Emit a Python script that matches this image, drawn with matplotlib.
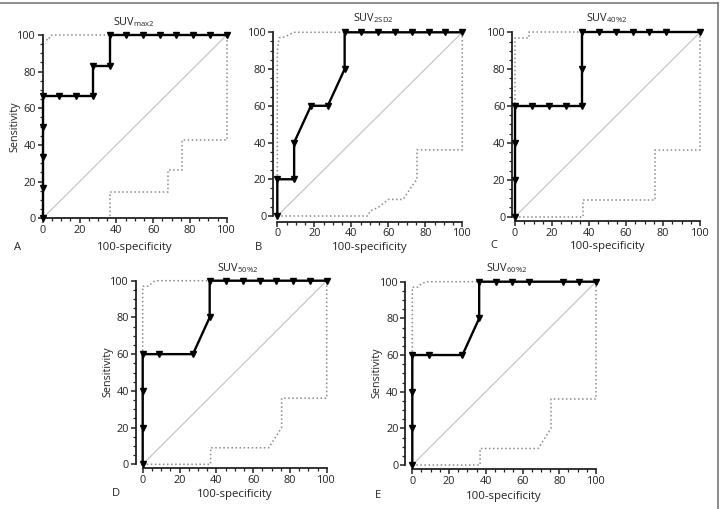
import matplotlib.pyplot as plt
from matplotlib.lines import Line2D
from matplotlib.ticker import MultipleLocator

plt.rcParams['font.family'] = ['Open Sans', 'DejaVu Sans']

# ROC curves (100-specificity, sensitivity)
a_fpr = [0, 0, 0, 0, 0, 9.1, 18.2, 27.3, 27.3, 36.4, 36.4, 45.5, 54.5, 63.6, 72.7, 81.8, 90.9, 100]
a_tpr = [0, 16.7, 33.3, 50, 66.7, 66.7, 66.7, 66.7, 83.3, 83.3, 100, 100, 100, 100, 100, 100, 100, 100]
a_up_x = [0, 0, 3.6, 3.6, 5, 100]
a_up_y = [0, 97.5, 97.5, 99, 100, 100]
a_lo_x = [0, 36.4, 36.4, 68.3, 68.3, 75.5, 75.5, 100, 100]
a_lo_y = [0, 0, 14.5, 14.5, 26.4, 26.4, 42.7, 42.7, 100]

b_fpr = [0, 0, 9.1, 9.1, 18.2, 27.3, 36.4, 36.4, 45.5, 54.5, 63.6, 72.7, 81.8, 90.9, 100]
b_tpr = [0, 20, 20, 40, 60, 60, 80, 100, 100, 100, 100, 100, 100, 100, 100]
b_up_x = [0, 0, 1, 4, 7, 9, 100]
b_up_y = [0, 90, 97, 97.5, 99, 100, 100]
b_lo_x = [0, 49, 50, 55, 60, 68, 74, 75.5, 75.5, 100, 100]
b_lo_y = [0, 0, 2.5, 5, 9, 9, 18, 20, 36, 36, 100]

c_fpr = [0, 0, 0, 0, 9.1, 18.2, 27.3, 36.4, 36.4, 36.4, 45.5, 54.5, 63.6, 72.7, 81.8, 100]
c_tpr = [0, 20, 40, 60, 60, 60, 60, 60, 80, 100, 100, 100, 100, 100, 100, 100]
c_up_x = [0, 0, 7.7, 7.7, 100]
c_up_y = [0, 97, 97, 100, 100]
c_lo_x = [0, 36.9, 36.9, 75.5, 75.5, 100, 100]
c_lo_y = [0, 0, 9, 9, 36, 36, 100]

d_fpr = [0, 0, 0, 0, 9.1, 27.3, 36.4, 36.4, 45.5, 54.5, 63.6, 72.7, 81.8, 90.9, 100]
d_tpr = [0, 20, 40, 60, 60, 60, 80, 100, 100, 100, 100, 100, 100, 100, 100]
d_up_x = [0, 0, 3, 6, 8, 100]
d_up_y = [0, 97, 97, 99.5, 100, 100]
d_lo_x = [0, 36.9, 36.9, 68.5, 75.5, 75.5, 100, 100]
d_lo_y = [0, 0, 9, 9, 20, 36, 36, 100]

e_fpr = [0, 0, 0, 0, 9.1, 27.3, 36.4, 36.4, 45.5, 54.5, 63.6, 81.8, 90.9, 100]
e_tpr = [0, 20, 40, 60, 60, 60, 80, 100, 100, 100, 100, 100, 100, 100]
e_up_x = [0, 0, 3, 5, 8, 100]
e_up_y = [0, 97, 97, 99, 100, 100]
e_lo_x = [0, 36.9, 36.9, 68.5, 75.5, 75.5, 100, 100]
e_lo_y = [0, 0, 9, 9, 20, 36, 36, 100]

titles = [r'SUV$_{\mathregular{max2}}$', r'SUV$_{\mathregular{2SD2}}$', r'SUV$_{\mathregular{40\%2}}$',
          r'SUV$_{\mathregular{50\%2}}$', r'SUV$_{\mathregular{60\%2}}$']
letters = ['A', 'B', 'C', 'D', 'E']

W, H = 723, 509
fig = plt.figure(figsize=(W / 100, H / 100), dpi=100)

# pixel boxes: x of data 0, x of data 100, y of data 100, y of data 0
boxes = [(42.7, 226.7, 35, 218.3), (277.3, 462.3, 32.3, 216), (515, 700, 32.3, 216.7),
         (142.7, 326.7, 280.7, 464.3), (412.3, 596, 281.7, 465)]
offsets = [(0, 0), (3, 4), (2, 3), (5, 3), (5, 3)]
title_pos = [(134, 22), (373, 18), (607, 18), (238, 268), (507, 268)]
letter_pos = [(17, 247), (259, 247), (494, 246), (116, 494), (378, 495)]
xlabel_y = [247, 247, 246, 494, 496]
ylab_pos = [(15, 127), None, None, (108, 372), (377, 373)]

panels = [(a_fpr, a_tpr, a_up_x, a_up_y, a_lo_x, a_lo_y),
          (b_fpr, b_tpr, b_up_x, b_up_y, b_lo_x, b_lo_y),
          (c_fpr, c_tpr, c_up_x, c_up_y, c_lo_x, c_lo_y),
          (d_fpr, d_tpr, d_up_x, d_up_y, d_lo_x, d_lo_y),
          (e_fpr, e_tpr, e_up_x, e_up_y, e_lo_x, e_lo_y)]

txt = '#222222'
for i, (fpr, tpr, ux, uy, lx, ly) in enumerate(panels):
    x0, x1, yt, yb = boxes[i]
    ax = fig.add_axes([x0 / W, 1 - yb / H, (x1 - x0) / W, (yb - yt) / H])
    ax.set_xlim(0, 100)
    ax.set_ylim(0, 100)
    ax.plot([0, 100], [0, 100], color='#c0c0c0', lw=0.8, zorder=1)
    ax.plot(ux, uy, color='#8a8a8a', lw=1.1, ls=':', zorder=2, clip_on=False)
    ax.plot(lx, ly, color='#8a8a8a', lw=1.1, ls=':', zorder=2, clip_on=False)
    ax.plot(fpr, tpr, color='black', lw=1.7, marker='v', ms=4.3, zorder=3, clip_on=False)
    for s in ['top', 'right']:
        ax.spines[s].set_visible(False)
    ax.spines['left'].set_position(('outward', offsets[i][0]))
    ax.spines['bottom'].set_position(('outward', offsets[i][1]))
    for s in ['left', 'bottom']:
        ax.spines[s].set_linewidth(1.3)
        ax.spines[s].set_color('#222222')
    ax.xaxis.set_major_locator(MultipleLocator(20))
    ax.yaxis.set_major_locator(MultipleLocator(20))
    ax.xaxis.set_minor_locator(MultipleLocator(5))
    ax.yaxis.set_minor_locator(MultipleLocator(5))
    ax.tick_params(which='major', length=3.5, width=1.1, labelsize=7.8, colors='#222222', pad=1.5)
    ax.tick_params(which='minor', length=2.2, width=0.9, colors='#222222')
    tx, ty = title_pos[i]
    fig.text(tx / W, 1 - ty / H, titles[i], fontsize=7.8, color=txt, ha='center', va='center')
    fig.text(((x0 + x1) / 2) / W, 1 - xlabel_y[i] / H, '100-specificity', fontsize=8.2,
             color=txt, ha='center', va='center')
    if ylab_pos[i] is not None:
        sx, sy = ylab_pos[i]
        fig.text(sx / W, 1 - sy / H, 'Sensitivity', fontsize=7.8, color=txt,
                 rotation=90, ha='center', va='center')
    lx_, ly_ = letter_pos[i]
    fig.text(lx_ / W, 1 - ly_ / H, letters[i], fontsize=8, color=txt, ha='center', va='center')

# border lines of the figure
fig.add_artist(Line2D([0, 718 / W], [1 - 3 / H, 1 - 3 / H], color='#777777', lw=1.2))
fig.add_artist(Line2D([718 / W, 718 / W], [1 - 3 / H, 0], color='#777777', lw=1.2))

fig.savefig('out.png', dpi=100)
